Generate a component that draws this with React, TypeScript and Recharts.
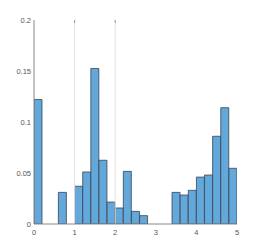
import { BarChart, Bar, XAxis, YAxis, ReferenceLine } from "recharts";

document.body.style.margin = "0";

// histogram bins of width 0.2 on [0, 5]
const binStarts = [
    0, 0.2, 0.4, 0.6, 0.8, 1.0, 1.2, 1.4, 1.6, 1.8, 2.0, 2.2, 2.4, 2.6, 2.8, 3.0,
    3.2, 3.4, 3.6, 3.8, 4.0, 4.2, 4.4, 4.6, 4.8,
];
const binWidth = 0.2;
const frequencies = [
    0.122, 0, 0, 0.031, 0, 0.037, 0.051, 0.1525, 0.0625, 0.0215, 0.0157, 0.0516,
    0.0124, 0.0082, 0, 0, 0, 0.031, 0.0284, 0.033, 0.046, 0.048, 0.086, 0.114,
    0.0546,
];
const xTicks = [0, 1, 2, 3, 4, 5];
const yTicks = [0, 0.05, 0.1, 0.15, 0.2];
const gridAt = [1, 2];

const data = binStarts.map((s, i) => ({
    x: s + binWidth / 2,
    value: frequencies[i],
}));

const tickStyle = { fill: "#555", fontSize: 7.5, fontFamily: "Liberation Sans, Arial, sans-serif" };

export default function App() {
    return (
        <div style={{ width: 262, height: 251, background: "#fff" }}>
            <BarChart
                width={262}
                height={251}
                data={data}
                margin={{ top: 20, right: 25, bottom: 12, left: 0 }}
                barCategoryGap={0}
                barGap={0}
            >
                <XAxis
                    dataKey="x"
                    type="number"
                    domain={[0, 5]}
                    ticks={xTicks}
                    tick={tickStyle}
                    tickSize={0}
                    tickMargin={6}
                    height={15}
                    axisLine={{ stroke: "#888" }}
                    tickLine={false}
                    allowDataOverflow
                />
                <YAxis
                    type="number"
                    domain={[0, 0.2]}
                    ticks={yTicks}
                    tick={tickStyle}
                    tickSize={0}
                    tickMargin={3}
                    width={34}
                    axisLine={{ stroke: "#888" }}
                    tickLine={false}
                    allowDataOverflow
                />
                {gridAt.map((g) => (
                    <ReferenceLine key={g} x={g} stroke="#e3e3e3" strokeWidth={1} />
                ))}
                {gridAt.map((g) => (
                    <ReferenceLine
                        key={`t${g}`}
                        segment={[
                            { x: g, y: 0.2 },
                            { x: g, y: 0.197 },
                        ]}
                        stroke="#999"
                        strokeWidth={1}
                    />
                ))}
                <Bar
                    dataKey="value"
                    fill="#62a8da"
                    stroke="#3a4450"
                    strokeWidth={0.8}
                    isAnimationActive={false}
                />
            </BarChart>
        </div>
    );
}
